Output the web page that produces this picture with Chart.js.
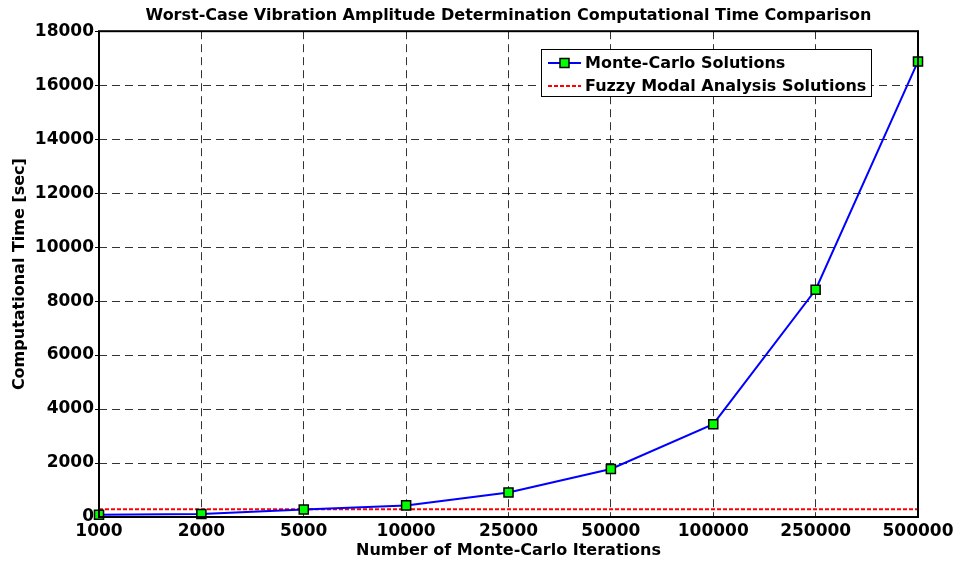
<!DOCTYPE html>
<html>
<head>
<meta charset="utf-8">
<script src="https://cdn.jsdelivr.net/npm/chart.js@4/dist/chart.umd.min.js"></script>
<style>
  html, body { margin: 0; padding: 0; background: #fff; }
  #wrap { width: 961px; height: 563px; }
</style>
</head>
<body>
<div id="wrap"><canvas id="cpu-time-chart" width="961" height="563"></canvas></div>
<script>
// Dados
const iterations = ['1000', '2000', '5000', '10000', '25000', '50000', '100000', '250000', '500000'];
const monteCarloTimes = [85, 110, 275, 430, 905, 1780, 3440, 8420, 16880];
const fuzzyTimes = [285, 285, 285, 285, 285, 285, 285, 285, 285];
const yTicks = [0, 2000, 4000, 6000, 8000, 10000, 12000, 14000, 16000, 18000];

const FONT = "'DejaVu Sans', Verdana, sans-serif";

/**
 * Moldura preta em volta da área do gráfico
 */
const frameBox = {
    id: 'frameBox',
    afterDatasetsDraw(chart) {
        const a = chart.chartArea;
        const ctx = chart.ctx;
        ctx.save();
        ctx.strokeStyle = '#000';
        ctx.lineWidth = 2;
        ctx.strokeRect(a.left, a.top, a.right - a.left, a.bottom - a.top);
        ctx.restore();
    }
};

/**
 * Legenda dentro da área do gráfico (canto superior direito)
 */
const insideLegend = {
    id: 'insideLegend',
    afterDraw(chart) {
        const ctx = chart.ctx;
        const x = 541, y = 49, w = 330, h = 47;
        ctx.save();
        ctx.fillStyle = '#fff';
        ctx.fillRect(x, y, w, h);
        ctx.strokeStyle = '#000';
        ctx.lineWidth = 1;
        ctx.strokeRect(x + 0.5, y + 0.5, w, h);

        const sets = chart.data.datasets;
        ctx.font = 'bold 16px ' + FONT;
        ctx.textBaseline = 'middle';
        ctx.textAlign = 'left';
        sets.forEach((ds, i) => {
            const ry = y + 14 + i * 23;
            ctx.beginPath();
            ctx.strokeStyle = ds.borderColor;
            ctx.lineWidth = ds.borderWidth;
            ctx.setLineDash(ds.borderDash || []);
            ctx.moveTo(x + 7, ry);
            ctx.lineTo(x + 40, ry);
            ctx.stroke();
            ctx.setLineDash([]);
            if (ds.pointRadius > 0) {
                ctx.fillStyle = ds.pointBackgroundColor;
                ctx.strokeStyle = ds.pointBorderColor;
                ctx.lineWidth = ds.pointBorderWidth;
                ctx.fillRect(x + 19, ry - 4.5, 9, 9);
                ctx.strokeRect(x + 19, ry - 4.5, 9, 9);
            }
            ctx.fillStyle = '#000';
            ctx.fillText(ds.label, x + 44, ry + 1);
        });
        ctx.restore();
    }
};

new Chart(document.getElementById('cpu-time-chart'), {
    type: 'line',
    data: {
        labels: iterations,
        datasets: [
            {
                label: 'Monte-Carlo Solutions',
                data: monteCarloTimes,
                borderColor: '#0000ff',
                borderWidth: 2,
                pointStyle: 'rect',
                pointRadius: 6.4,
                pointBackgroundColor: '#00ff00',
                pointBorderColor: '#000',
                pointBorderWidth: 1.5,
                tension: 0,
                clip: false
            },
            {
                label: 'Fuzzy Modal Analysis Solutions',
                data: fuzzyTimes,
                borderColor: '#ff0000',
                borderWidth: 2,
                borderDash: [4, 2],
                pointRadius: 0,
                tension: 0,
                clip: false
            }
        ]
    },
    options: {
        responsive: false,
        animation: false,
        layout: { padding: { left: 0, right: 43, top: 0, bottom: 0 } },
        plugins: {
            legend: { display: false },
            tooltip: { enabled: false },
            title: {
                display: true,
                fullSize: false,
                text: 'Worst-Case Vibration Amplitude Determination Computational Time Comparison',
                color: '#000',
                font: { family: FONT, size: 16, weight: 'bold', lineHeight: 1.2 },
                padding: { top: 6, bottom: 6 }
            }
        },
        scales: {
            x: {
                type: 'category',
                offset: false,
                grid: {
                    offset: false,
                    color: 'rgba(0,0,0,0.8)',
                    lineWidth: 1,
                    drawTicks: false
                },
                border: { display: false, dash: [8, 5] },
                ticks: {
                    color: '#000',
                    padding: 4,
                    maxRotation: 0,
                    autoSkip: false,
                    font: { family: FONT, size: 17, weight: 'bold' }
                },
                title: {
                    display: true,
                    text: 'Number of Monte-Carlo Iterations',
                    color: '#000',
                    padding: { top: 0, bottom: 3 },
                    font: { family: FONT, size: 16, weight: 'bold' }
                },
                afterFit(scale) { scale.height = 46; }
            },
            y: {
                min: 0,
                max: 18000,
                afterBuildTicks(scale) {
                    scale.ticks = yTicks.map(v => ({ value: v }));
                },
                grid: {
                    color: 'rgba(0,0,0,0.8)',
                    lineWidth: 1,
                    drawTicks: true,
                    tickLength: 4,
                    tickColor: '#000'
                },
                border: { display: false, dash: [8, 5] },
                ticks: {
                    color: '#000',
                    padding: 1,
                    callback: v => String(v),
                    font: { family: FONT, size: 17, weight: 'bold' }
                },
                title: {
                    display: true,
                    text: 'Computational Time [sec]',
                    color: '#000',
                    padding: { top: 10, bottom: 0 },
                    font: { family: FONT, size: 16, weight: 'bold' }
                },
                afterFit(scale) { scale.width = 99; }
            }
        }
    },
    plugins: [frameBox, insideLegend]
});
</script>
</body>
</html>
